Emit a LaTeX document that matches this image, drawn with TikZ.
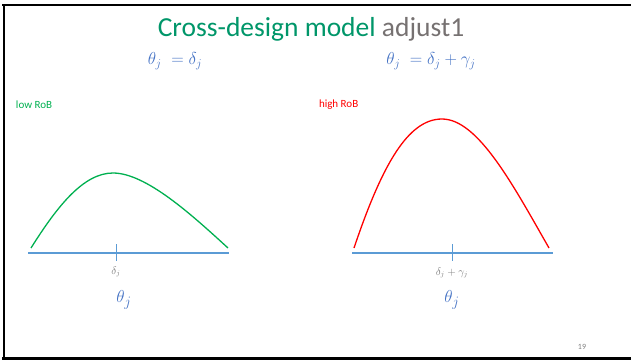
\documentclass[tikz,border=0pt]{standalone}
\usepackage{fontspec}
\setmainfont{Carlito}
\definecolor{ttlgreen}{RGB}{0,150,105}
\definecolor{ttlgray}{RGB}{118,113,113}
\definecolor{eqblue}{RGB}{68,114,196}
\definecolor{axisblue}{RGB}{91,155,213}
\definecolor{lowgreen}{RGB}{0,176,80}
\definecolor{highred}{RGB}{255,0,0}
\definecolor{tickgray}{RGB}{127,127,127}
\usetikzlibrary{positioning}

\begin{document}
\begin{tikzpicture}[x=1pt, y=-1pt,
  every node/.style={inner sep=0pt, outer sep=0pt},
  eqlabel/.style={text=eqblue, font=\fontsize{18}{21}\selectfont},
  riskflag/.style={font=\fontsize{11}{13}\selectfont, anchor=west},
  ticklabel/.style={text=tickgray, font=\fontsize{10.5}{12}\selectfont},
  thetalabel/.style={text=eqblue, font=\fontsize{19}{22}\selectfont},
  axisline/.style={draw=axisblue, line width=1.6pt},
  modetick/.style={draw=axisblue, line width=0.9pt},
  density/.style={line width=1.3pt},
  frameline/.style={draw=black, line width=2.4pt},
]
\useasboundingbox (0,0) rectangle (631,360);

% Slide frame (cropped)
\draw[frameline] (2,5) -- (631,5);
\draw[frameline] (4,4) -- (4,360);
\draw[frameline] (2,358.6) -- (631,358.6);

% Title
\node[font=\fontsize{27.5}{30}\selectfont] (title) at (311,29)
      {\textcolor{ttlgreen}{Cross-design model} \textcolor{ttlgray}{adjust1}};

% Model equations
\node[eqlabel] (eqlow) at (175,61) {$\theta_j\;=\delta_j$};
\node[eqlabel] (eqhigh) at (431,61) {$\theta_j\;=\delta_j+\gamma_j$};

% Risk of bias flags
\node[riskflag, text=lowgreen] (lowrob) at (16,105) {low RoB};
\node[riskflag, text=highred] (highrob) at (319,105) {high RoB};

% Left panel: low RoB
\draw[density, lowgreen] (31,248) .. controls (58,205) and (84,173) .. (113,173)
      .. controls (146,173) and (192,215) .. (228,248);
\draw[axisline] (28,253) -- (229,253);
\draw[modetick] (116,244) -- (116,261);
\node[ticklabel] (lmode) at (116,272) {$\delta_j$};
\node[thetalabel] (ltheta) at (124,300) {$\theta_j$};

% Right panel: high RoB
\draw[density, highred] (354,248) .. controls (382,165) and (408,119) .. (442,119)
      .. controls (478,119) and (513,185) .. (549,248);
\draw[axisline] (352,253) -- (553,253);
\draw[modetick] (452,244) -- (452,261);
\node[ticklabel] (rmode) at (452,273) {$\delta_j+\gamma_j$};
\node[thetalabel] (rtheta) at (452,300) {$\theta_j$};

% Slide number
\node[ticklabel, font=\fontsize{8}{9}\selectfont] (pageno) at (582,347) {19};

\end{tikzpicture}
\end{document}
